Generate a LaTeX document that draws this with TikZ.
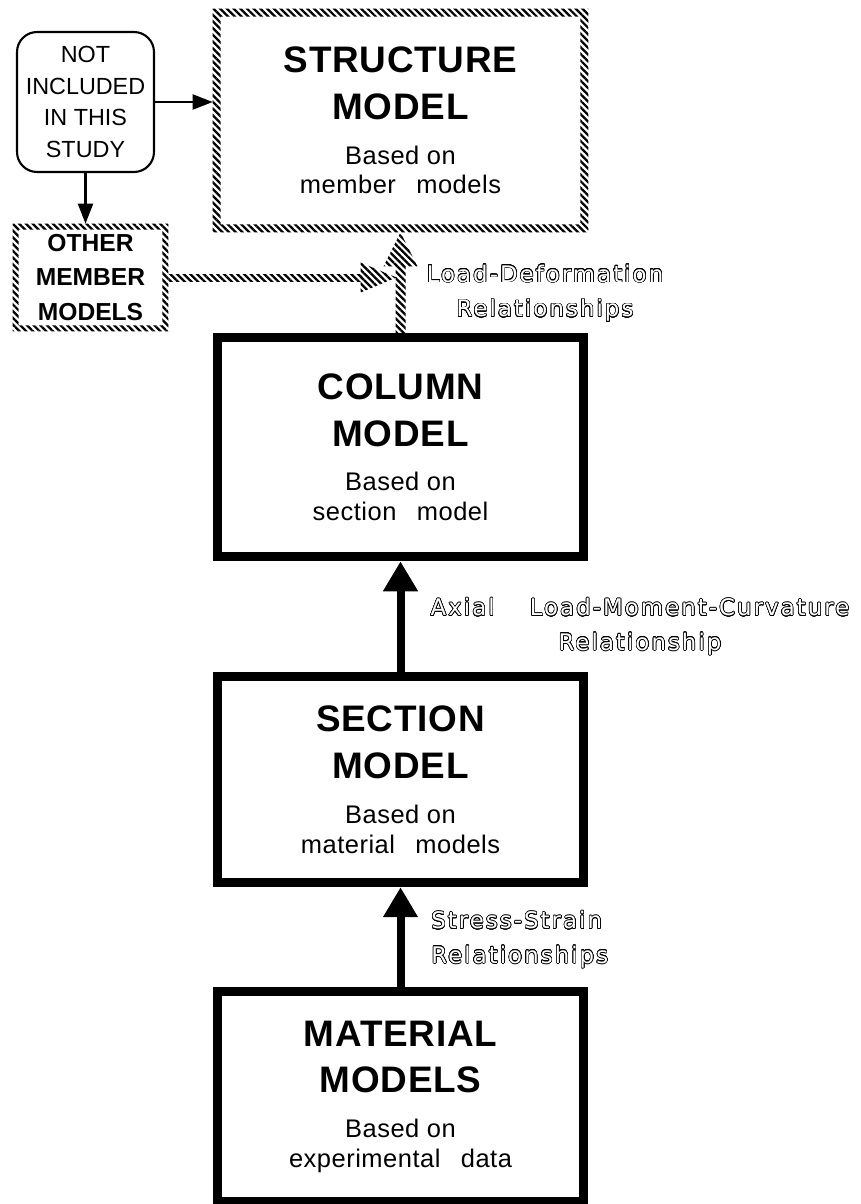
\documentclass[tikz,border=0pt]{standalone}
\usepackage{fontspec}
\setmainfont{Liberation Sans}
\newfontfamily\bodyfamily[LetterSpace=2]{Liberation Sans}
\newfontfamily\outlinefont[LetterSpace=9]{DejaVu Sans}
\usepackage{contour}
\contourlength{0.35pt}
\contournumber{24}
\usetikzlibrary{arrows.meta, positioning, calc, patterns.meta}

\newcommand{\titlefont}{\fontsize{21}{24}\selectfont\bfseries}
\newcommand{\bodyfont}{\bodyfamily\fontsize{14.5}{17}\selectfont}
\newcommand{\hollow}[1]{\textcolor{white}{\contour{black}{#1}}}
\newcommand{\modeltext}[4]{{\titlefont #1}\\[9.6pt]{\titlefont #2}\\[8.5pt]#3\\#4}
\newcommand{\gap}{\hspace{0.8em}}

\tikzset{
    modelbox/.style={rectangle, draw=black, line width=0.18cm, minimum width=7.32cm, inner sep=0pt, align=center, font=\bodyfont},
    hatchbox/.style={rectangle, inner sep=0pt, align=center, font=\bodyfont},
    notebox/.style={rectangle, rounded corners=0.4cm, draw=black, line width=1.2pt, minimum width=2.74cm, minimum height=2.8cm, inner sep=0pt, align=center, font=\fontsize{13.3}{18}\selectfont},
    hatch/.style={pattern={Lines[angle=-45, distance=2.7pt, line width=1.3pt]}},
    thinarrow/.style={-{Triangle[length=0.4cm, width=0.3cm]}, line width=1.2pt},
    bigarrow/.style={-{Triangle[length=0.6cm, width=0.66cm]}, line width=0.16cm},
    rellabel/.style={font=\outlinefont\fontsize{13}{19.8}\selectfont, inner sep=0pt},
}

\begin{document}
\begin{tikzpicture}[x=0.02cm, y=-0.02cm]
    \useasboundingbox (0,0) rectangle (861,1204);
    % the chain of models
    \node[hatchbox, minimum width=7.5cm, minimum height=4.46cm] (struct) at (400.5,120.5)
        {\modeltext{STRUCTURE}{MODEL}{Based on}{member\gap models}};
    \node[modelbox, minimum height=4.38cm, below=2.02cm of struct] (col)
        {\modeltext{COLUMN}{MODEL}{Based on}{section\gap model}};
    \node[modelbox, minimum height=4.12cm, below=2.22cm of col] (sec)
        {\modeltext{SECTION}{MODEL}{Based on}{material\gap models}};
    \node[modelbox, minimum height=4.2cm, below=2.0cm of sec] (mat)
        {\modeltext{MATERIAL}{MODELS}{Based on}{experimental\gap data}};
    % side branch
    \node[notebox] (note) at (85.5,102) {NOT\\INCLUDED\\IN THIS\\STUDY};
    \node[hatchbox, minimum width=3.1cm, minimum height=2.14cm, font=\fontsize{14}{19.8}\selectfont\bfseries] (other) at (90.5,277.5)
        {OTHER\\MEMBER\\MODELS};
    % hatched borders
    \fill[hatch, even odd rule] (struct.south west) rectangle (struct.north east)
        ($(struct.south west)+(8,-8)$) rectangle ($(struct.north east)+(-8,8)$);
    \fill[hatch, even odd rule] (other.south west) rectangle (other.north east)
        ($(other.south west)+(6,-6)$) rectangle ($(other.north east)+(-6,6)$);
    % hatched connector into the structure model
    \coordinate (jn) at (other.east -| col.north);
    \fill[hatch] ($(other.east)+(0,-3.5)$) rectangle ($(jn)+(-38,3.5)$);
    \fill[hatch] ($(jn)+(-40,-15)$) -- ($(jn)+(-40,15)$) -- ($(jn)+(-4,0)$) -- cycle;
    \fill[hatch] ($(col.north)+(-5,0)$) rectangle ($(struct.south)+(5,34)$);
    \fill[hatch] (struct.south) -- ($(struct.south)+(-17,34)$) -- ($(struct.south)+(17,34)$) -- cycle;
    % arrows
    \draw[thinarrow] (note.east) -- (note.east -| struct.west);
    \draw[thinarrow] (note.south) -- (note.south |- other.north);
    \draw[bigarrow] (sec.north) -- (col.south);
    \draw[bigarrow] (mat.north) -- (sec.south);
    % relationship labels
    \node[rellabel, align=center] (ldrel) at (545,293.5)
        {\hollow{Load-Deformation}\\\hollow{Relationships}};
    \node[rellabel, align=center] (lmcrel) at (640,627)
        {\hollow{Axial}\hspace{20pt}\hollow{Load-Moment-Curvature}\\\hollow{Relationship}};
    \node[rellabel, align=left, anchor=west] (ssrel) at (431,940)
        {\hollow{Stress-Strain}\\\hollow{Relationships}};
\end{tikzpicture}
\end{document}
